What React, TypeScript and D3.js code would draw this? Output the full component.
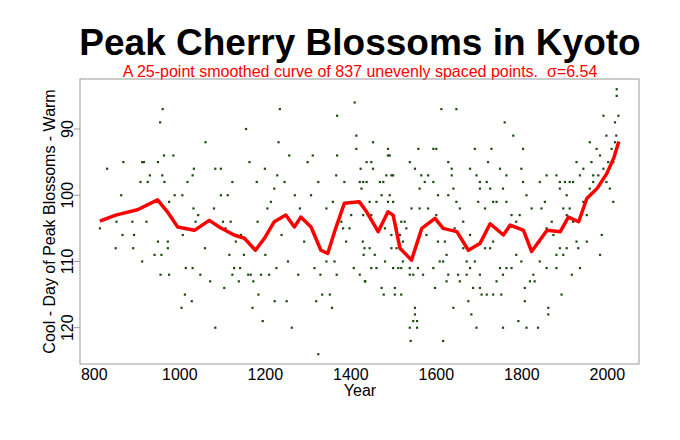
import React from 'react';
import * as d3 from 'd3';

// smoothed curve
const curveYears = [813, 850, 901, 948, 971, 995, 1034, 1069, 1095, 1127, 1151, 1177, 1198, 1221, 1248, 1268, 1283, 1307, 1330, 1346, 1362, 1385, 1420, 1437, 1464, 1487, 1499, 1515, 1542, 1566, 1597, 1616, 1648, 1675, 1702, 1726, 1757, 1773, 1804, 1823, 1859, 1890, 1909, 1933, 1952, 1976, 1999, 2015, 2027];
const curveDays = [103.9, 103.0, 102.2, 100.7, 102.5, 104.8, 105.3, 103.8, 104.9, 106, 106.5, 108.3, 106.5, 104, 103, 104.8, 103.3, 104.8, 108.3, 108.8, 105.5, 101.2, 101, 102.5, 105.5, 102.5, 103, 108, 109.8, 105, 103.5, 105, 105.5, 108.3, 107.3, 104.3, 106, 104.5, 105.3, 108.5, 105.3, 105.5, 103.3, 104, 100.5, 99, 96.7, 94.4, 91.9];

// observed points [year, day]
const obsYears = [813, 830, 852, 850, 863, 868, 866, 889, 893, 891, 908, 912, 916, 912, 922, 925, 930, 941, 949, 954, 960, 959, 964, 963, 957, 949, 955, 972, 972, 975, 975, 985, 988, 1006, 1007, 1004, 1012, 1014, 1018, 1028, 1030, 1030, 1033, 1032, 1037, 1043, 1048, 1060, 1059, 1071, 1080, 1083, 1083, 1096, 1096, 1101, 1104, 1107, 1112, 1116, 1119, 1123, 1123, 1127, 1131, 1138, 1141, 1143, 1150, 1155, 1160, 1163, 1166, 1172, 1170, 1180, 1182, 1184, 1190, 1194, 1199, 1200, 1205, 1209, 1213, 1221, 1222, 1226, 1228, 1231, 1234, 1238, 1245, 1250, 1256, 1253, 1262, 1269, 1277, 1281, 1291, 1299, 1307, 1311, 1315, 1319, 1324, 1324, 1329, 1333, 1343, 1343, 1351, 1356, 1358, 1362, 1366, 1368, 1368, 1367, 1378, 1382, 1385, 1389, 1397, 1401, 1407, 1409, 1413, 1413, 1417, 1421, 1423, 1421, 1425, 1428, 1430, 1432, 1434,
  1452, 1487, 1487, 1491, 1448, 1437, 1452, 1429, 1437, 1468, 1476, 1483, 1495, 1499, 1472, 1491, 1444, 1460, 1487, 1499, 1429, 1448, 1480, 1495, 1507, 1526, 1515, 1522, 1444, 1495, 1507, 1456, 1480, 1522, 1499, 1511, 1518, 1538, 1557, 1448, 1460, 1433, 1538, 1546, 1472, 1503, 1477, 1503, 1518, 1550, 1550, 1546, 1555, 1538, 1555, 1540, 1616, 1612, 1647, 1558, 1538, 1550, 1565, 1581, 1573, 1593, 1561, 1604, 1542, 1561, 1581, 1600, 1518, 1530, 1577, 1604, 1620, 1624, 1616, 1608, 1593, 1569, 1628, 1651, 1671, 1597, 1624, 1655, 1640, 1593, 1600, 1628, 1636, 1636, 1640, 1628, 1647, 1655, 1663, 1643, 1679, 1663, 1671, 1679, 1690, 1690, 1679, 1694, 1702, 1702, 1698, 1714, 1721, 1718, 1729, 1726, 1733, 1741, 1749, 1760, 1764, 1780, 1756, 1764, 1776, 1787, 1795, 1803, 1799, 1803, 1811, 1823, 1842, 1858, 1846, 1854, 1870, 1881, 1889, 1901, 1912, 1889, 1905, 1897, 1912, 1928, 1936, 1944, 1959, 1963, 1967, 1975, 1983, 1991, 1998, 2002, 2010, 2018, 2021, 2018, 2026, 2022, 2022, 2006, 2014, 1987, 1983, 1952, 1936, 1917, 1928, 1889, 1897, 1905, 1881, 1858, 1842, 1827, 1830, 1819, 1807, 1807, 1792, 1811, 1838, 1862, 1862, 1893, 1764, 1776, 1787, 1799, 1756, 1741, 1733, 1752, 1718, 1702, 1682, 1694, 1756, 1714, 1726, 1733, 1749, 1702, 1675, 1686, 1706, 1881, 1932, 1842, 1858, 1874, 1905, 1920, 1944, 1959, 1967, 1979, 1991, 1998, 2014, 1952, 1920];
const obsDays = [105, 96, 104, 108, 100, 95, 106, 104, 106, 108, 98, 95, 95, 110, 104, 98, 97, 109, 95, 89, 87, 97, 98, 94, 109, 107, 112, 107, 108, 112, 101, 94, 100, 100, 106, 117, 115, 111, 98, 116, 111, 97, 96, 102, 104, 103, 112, 92, 108, 113, 102, 96, 120, 96, 100, 104, 114, 105, 100, 109, 104, 98, 112, 111, 107, 113, 111, 106, 109, 90, 112, 95, 112, 113, 117, 98, 104, 115, 112, 119, 96, 109, 102, 112, 101, 99, 116, 111, 97, 92, 87, 106, 98, 116, 94, 110, 120, 100, 112, 102, 107, 95, 100, 94, 111, 116, 98, 124, 112, 115, 102, 110, 115, 117, 101, 110, 97, 88, 94, 112, 104, 105, 98, 107, 105, 103, 111, 86, 91, 93, 101, 112, 96, 98, 99, 107, 109, 108, 113,
  92, 93, 94, 94, 95, 95, 96, 98, 98, 98, 98, 97, 97, 97, 100, 100, 101, 101, 101, 101, 103, 103, 105, 106, 105, 104, 106, 107, 108, 108, 108, 109, 110, 110, 111, 111, 111, 111, 111, 111, 111, 113, 112, 112, 114, 114, 115, 115, 115, 117, 118, 119, 119, 120, 120, 122, 122, 87, 87, 93, 95, 96, 97, 97, 98, 98, 99, 100, 102, 102, 102, 103, 104, 105, 106, 107, 107, 109, 110, 110, 111, 112, 112, 112, 112, 114, 113, 113, 117, 93, 93, 95, 96, 97, 99, 100, 101, 102, 104, 105, 106, 108, 110, 111, 110, 93, 96, 97, 98, 99, 101, 102, 95, 98, 93, 99, 101, 101, 96, 89, 97, 91, 99, 101, 103, 104, 103, 93, 96, 98, 100, 102, 98, 97, 102, 101, 104, 97, 98, 98, 98, 99, 100, 102, 102, 95, 97, 96, 92, 95, 97, 93, 94, 88, 91, 95, 93, 92, 91, 89, 88, 85, 84, 99, 101, 106, 109, 107, 111, 112, 107, 108, 109, 108, 111, 111, 110, 112, 113, 113, 114, 116, 119, 120, 120, 117, 118, 115, 111, 111, 109, 110, 112, 113, 115, 115, 115, 114, 118, 120, 120, 108, 108, 107, 111, 112, 116, 114, 115, 109, 108, 107, 105, 106, 103, 104, 101, 99, 98, 97, 96, 98, 95, 103, 98];

const xTicks = [800, 1000, 1200, 1400, 1600, 1800, 2000];
const yTicks = [90, 100, 110, 120];

const W = 680;
const H = 440;
const font = 'Liberation Sans, Arial, sans-serif';

export default function App() {
  const left = 80, right = 639, top = 79, bottom = 364;
  const x = d3.scaleLinear().domain([800, 2000]).range([94.3, 607.3]);
  const y = d3.scaleLinear().domain([90, 120]).range([129, 327.7]);

  const line = d3.line<number>()
    .x((_, i) => x(curveYears[i]))
    .y(d => y(d))
    .curve(d3.curveLinear);

  return (
    <svg width={W} height={H} style={{ position: 'absolute', left: 0, top: 0, background: '#fff' }}>
      <text x={360} y={55} textAnchor="middle" fontFamily={font} fontWeight="bold" fontSize={37}>
        Peak Cherry Blossoms in Kyoto
      </text>
      <text x={360} y={77} textAnchor="middle" fontFamily={font} fontSize={16} fill="#ff0000">
        {'A 25-point smoothed curve of 837 unevenly spaced points.\u00a0 σ=6.54'}
      </text>
      <rect x={left} y={top} width={right - left} height={bottom - top} fill="none" stroke="#999" strokeWidth={1} />
      {yTicks.map(t => (
        <g key={t}>
          <line x1={left - 6} x2={left} y1={y(t)} y2={y(t)} stroke="#999" />
          <text transform={`translate(73,${y(t)}) rotate(-90)`} textAnchor="middle" fontFamily={font} fontSize={16}>{t}</text>
        </g>
      ))}
      {xTicks.map(t => (
        <text key={t} x={x(t)} y={380} textAnchor="middle" fontFamily={font} fontSize={16}>{t}</text>
      ))}
      <text x={360} y={396} textAnchor="middle" fontFamily={font} fontSize={16}>Year</text>
      <text transform={`translate(55,${(top + bottom) / 2}) rotate(-90)`} textAnchor="middle" fontFamily={font} fontSize={16}>
        Cool - Day of Peak Blossoms - Warm
      </text>
      {obsYears.map((yr, i) => (
        <rect key={i} x={x(yr) - 1.1} y={y(obsDays[i]) - 1.1} width={2.2} height={2.2} fill="#1a4a0e" />
      ))}
      <path d={line(curveDays) || ''} fill="none" stroke="#ff0000" strokeWidth={3.5} strokeLinejoin="round" />
    </svg>
  );
}
